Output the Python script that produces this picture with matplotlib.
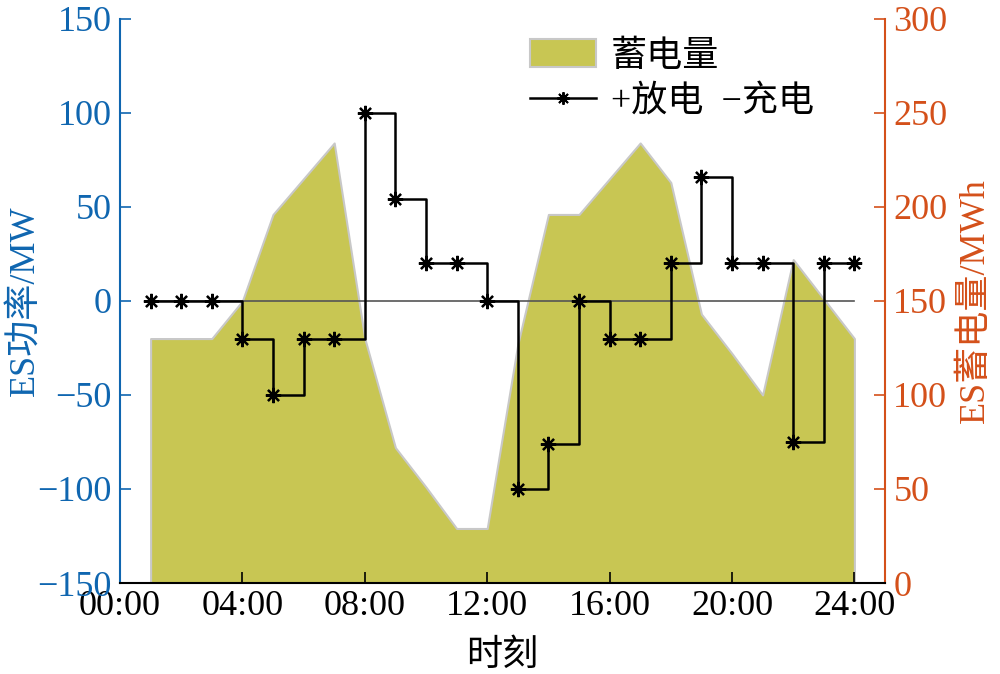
import numpy as np
import matplotlib.pyplot as plt
from matplotlib.lines import Line2D
from matplotlib.patches import Patch

plt.rcParams['font.family'] = ['Liberation Serif', 'Noto Sans CJK SC']
plt.rcParams['axes.unicode_minus'] = True

## 数据
hours = np.arange(1, 25)
power = [0, 0, 0, -20, -50, -20, -20, 100, 54, 20, 20, 0,
         -100, -76, 0, -20, -20, 20, 66, 20, 20, -75, 20, 20]          # MW
energy = [130, 130, 130, 150, 196, 215, 234, 130, 72, 51, 29, 29,
          127, 196, 196, 215, 234, 213, 143, 122, 100, 172, 151, 130]  # MWh
xticks = [0, 4, 8, 12, 16, 20, 24]
xticklabels = ['00:00', '04:00', '08:00', '12:00', '16:00', '20:00', '24:00']

c_blue = '#0f66b0'
c_orange = '#d4501a'
c_fill = '#c8c653'

#########   plot    ##########################
fig = plt.figure(figsize=(10, 6.74), dpi=100)
ax1 = fig.add_axes([0.12, 0.135, 0.765, 0.837])
ax2 = ax1.twinx()
ax1.set_zorder(ax2.get_zorder() + 1)
ax1.patch.set_visible(False)

# 蓄电量
ax2.fill_between(hours, energy, 0, facecolor=c_fill, edgecolor='#c8c8c8', linewidth=1.5)
ax2.set_ylim(0, 300)
ax2.set_yticks(np.arange(0, 301, 50))

# 功率
ax1.axhline(0, xmin=1/25, xmax=24/25, color='#555555', linewidth=1.2)
ax1.step(hours, power, where='post', color='black', linewidth=1.8)
ax1.plot(hours, power, linestyle='none', marker=(8, 2, 0), markersize=11,
         markeredgewidth=1.6, color='black')
ax1.set_ylim(-150, 150)
ax1.set_yticks(np.arange(-150, 151, 50))
ax1.set_xlim(0, 25)
ax1.set_xticks(xticks)
ax1.set_xticklabels(xticklabels)

for ax in (ax1, ax2):
    ax.spines['top'].set_visible(False)
    ax.tick_params(direction='in', length=8, width=1.2, labelsize=26, pad=6)
ax1.spines['left'].set_color(c_blue)
ax1.spines['left'].set_linewidth(1.5)
ax1.spines['bottom'].set_linewidth(1.5)
ax1.spines['right'].set_visible(False)
ax2.spines['left'].set_visible(False)
ax2.spines['bottom'].set_visible(False)
ax2.spines['right'].set_color(c_orange)
ax2.spines['right'].set_linewidth(1.5)
ax1.tick_params(axis='y', colors=c_blue)
ax2.tick_params(axis='y', colors=c_orange)
ax1.tick_params(axis='x', pad=5)

ax1.set_ylabel('ES功率/MW', fontsize=26, color=c_blue, labelpad=-3)
ax2.set_ylabel('ES蓄电量/MWh', fontsize=26, color=c_orange, labelpad=8)
ax1.set_xlabel('时刻', fontsize=26, labelpad=12)

handles = [Patch(facecolor=c_fill, edgecolor='#c8c8c8', linewidth=1.5),
           Line2D([], [], color='black', linewidth=1.8, marker=(8, 2, 0),
                  markersize=9, markeredgewidth=1.4)]
labels = ['蓄电量', '+放电  −充电']
ax1.legend(handles, labels, loc='upper left', bbox_to_anchor=(0.497, 0.99),
           bbox_transform=fig.transFigure, frameon=False, fontsize=26,
           handlelength=1.85, handleheight=0.8, handletextpad=0.4, labelspacing=0.3)

fig.savefig('out.png', dpi=100)
